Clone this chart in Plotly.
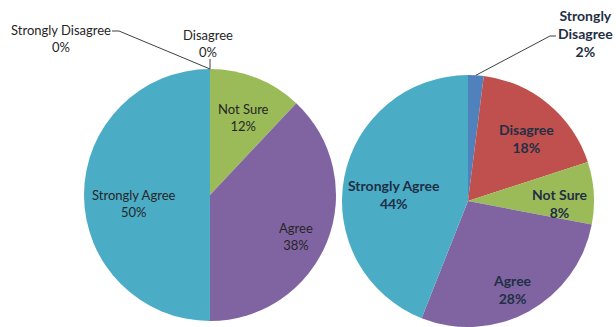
import numpy as np
import plotly.graph_objects as go

# Survey responses, two groups, percentages
categories = ["Strongly Disagree", "Disagree", "Not Sure", "Agree", "Strongly Agree"]
group_a = [0, 0, 12, 38, 50]
group_b = [2, 18, 8, 28, 44]

colors = ["#4F81BD", "#C0504D", "#9BBB59", "#8064A2", "#4BACC6"]

W, H = 616, 327
# pie geometry in pixels: centre x, centre y (from top), radius
pies = [
    dict(values=group_a, cx=210, cy=195, r=126, font="#262626", size=13, bold=False),
    dict(values=group_b, cx=468, cy=201, r=126, font="#1F2F45", size=14, bold=True),
]
LABEL_DROP = 8  # inside labels sit slightly below the radial point


def px(x):
    return x / W


def py(y):
    return 1 - y / H


def edge_point(p, frac, k=1.0):
    a = 2 * np.pi * frac
    return p["cx"] + k * p["r"] * np.sin(a), p["cy"] - k * p["r"] * np.cos(a)


def label(x, y, lines, p):
    if p["bold"]:
        lines = [f"<b>{s}</b>" for s in lines]
    return dict(x=px(x), y=py(y), xref="paper", yref="paper", text="<br>".join(lines),
                showarrow=False, xanchor="center", yanchor="middle",
                font=dict(size=p["size"], color=p["font"]))


fig = go.Figure()
annotations = []
shapes = []

for p in pies:
    fig.add_trace(go.Pie(
        labels=categories,
        values=p["values"],
        sort=False,
        direction="clockwise",
        rotation=0,
        marker=dict(colors=colors, line=dict(width=0)),
        textinfo="none",
        hoverinfo="label+percent",
        showlegend=False,
        domain=dict(x=[px(p["cx"] - p["r"]), px(p["cx"] + p["r"])],
                    y=[max(0, py(p["cy"] + p["r"])), py(p["cy"] - p["r"])]),
    ))
    total = sum(p["values"])
    cum = np.cumsum([0] + p["values"]) / total
    p["mid"] = [(cum[i] + cum[i + 1]) / 2 for i in range(len(categories))]
    for i, (lab, v) in enumerate(zip(categories, p["values"])):
        frac = v / total
        if frac < 0.05:
            continue
        k = 0.6 if frac >= 0.4 else 0.73
        x, y = edge_point(p, p["mid"][i], k)
        annotations.append(label(x, y + LABEL_DROP, [lab, f"{v}%"], p))

# small slices labelled outside with leader lines
left, right = pies
lead = dict(color="#404040", width=1)

# left pie: Strongly Disagree 0%
tx, ty = edge_point(left, left["mid"][0])
annotations.append(label(61, 38, [categories[0], f"{group_a[0]}%"], left))
shapes.append(dict(type="path", xref="paper", yref="paper",
                   path=f"M {px(112)} {py(31)} L {px(119)} {py(31)} L {px(tx)} {py(ty)}",
                   line=lead))

# left pie: Disagree 0%
tx, ty = edge_point(left, left["mid"][1])
annotations.append(label(208, 44, [categories[1], f"{group_a[1]}%"], left))
shapes.append(dict(type="line", xref="paper", yref="paper",
                   x0=px(tx), y0=py(59), x1=px(tx), y1=py(ty), line=lead))

# right pie: Strongly Disagree 2%
tx, ty = edge_point(right, right["mid"][0])
first, second = categories[0].split(" ")
annotations.append(label(585, 33, [first, second, f"{group_b[0]}%"], right))
shapes.append(dict(type="path", xref="paper", yref="paper",
                   path=f"M {px(556)} {py(36)} L {px(550)} {py(36)} L {px(tx)} {py(ty)}",
                   line=lead))

fig.update_layout(
    width=W, height=H,
    margin=dict(l=0, r=0, t=0, b=0),
    paper_bgcolor="white",
    plot_bgcolor="white",
    font=dict(family="Lato, Liberation Sans, sans-serif", size=12),
    annotations=annotations,
    shapes=shapes,
)

fig.write_html("out.html")
